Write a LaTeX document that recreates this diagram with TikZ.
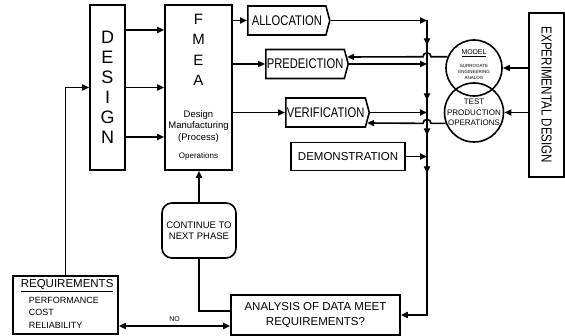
\documentclass[tikz,border=0pt]{standalone}
\usepackage{fontspec}
\setmainfont{Liberation Sans}
\newfontfamily\narrowfont[FakeStretch=0.8]{Liberation Sans}
\usetikzlibrary{positioning,calc,arrows.meta,shapes.symbols,decorations.markings}
\newcommand{\fsz}[2]{\fontsize{#1}{#2}\selectfont}

\begin{document}
\begin{tikzpicture}
[x=1pt, y=-1pt, line width=1.6pt, >={Triangle[length=7pt,width=6pt]},
box/.style={draw, inner sep=0pt},
tag/.style={draw, signal, signal to=east, signal pointer angle=150, anchor=west,
  minimum height=29pt, inner sep=1pt, font=\narrowfont\fsz{14}{16}},
ball/.style={draw, circle, inner sep=0pt},
txt/.style={inner sep=0pt},
bus/.style={postaction={decorate, decoration={markings,
  mark=at position 25pt with {\arrow{>}},
  mark=at position 80pt with {\arrow{>}},
  mark=at position 115pt with {\arrow{>}},
  mark=at position 153pt with {\arrow{>}}}}}]
\useasboundingbox (0,0) rectangle (565,336);

\node[box, minimum width=35pt, minimum height=165pt, align=center, font=\fsz{18}{20}] (design) at (107.5,87.5) {D\\E\\S\\I\\G\\N};
\node[box, minimum width=67pt, minimum height=165pt] (fmea) at (198.5,87.5) {};
\node[txt, align=center, font=\fsz{15}{20.5}] (fmeat) at (198.5,50) {F\\M\\E\\A};
\node[txt, align=center, font=\fsz{9.5}{11.5}] (dmp) at (198.5,126.5) {Design\\Manufacturing\\(Process)};
\node[txt, font=\fsz{8}{10}] (ops) at (198.5,156) {Operations};

\node[tag, minimum width=82pt] (alloc) at (247,20.5) {ALLOCATION};
\node[tag, minimum width=82pt] (pred) at (265,64) {PREDEICTION};
\node[tag, minimum width=80pt] (verif) at (285,112.5) {VERIFICATION};
\node[box, minimum width=114pt, minimum height=28pt, font=\fsz{11.5}{13}] (demo) at (348,156.5) {DEMONSTRATION};

\coordinate (top) at (427,20.5);

\node[ball, minimum size=56pt] (model) at (474,68) {};
\node[txt, font=\fsz{7}{8}] (modelt) at (474,53) {\underline{MODEL}};
\node[txt, align=center, font=\fsz{4.5}{6}] (sea) at (474,72) {SURROGATE\\ENGINEERING\\ANALOG};
\node[ball, minimum size=59pt] (test) at (474,112.5) {};
\node[txt, align=center, font=\fsz{8}{10.5}] (testt) at (474,112.5) {TEST\\PRODUCTION\\OPERATIONS};

\node[box, minimum width=35pt, minimum height=164pt] (exp) at (546.5,95) {};
\node[txt, rotate=-90, font=\narrowfont\fsz{14.5}{16}] (expt) at (exp) {EXPERIMENTAL DESIGN};

\node[box, rounded corners=10pt, minimum width=74pt, minimum height=55pt, align=center, font=\fsz{9.5}{11}] (cont) at (199,230.5) {CONTINUE TO\\NEXT PHASE};
\node[box, minimum width=169pt, minimum height=40pt, align=center, font=\fsz{11.5}{15}] (ana) at (315.5,315) {ANALYSIS OF DATA MEET\\REQUIREMENTS?};
\node[box, minimum width=105pt, minimum height=58pt] (req) at (65.5,305) {};
\node[txt, anchor=west, font=\fsz{11.5}{13}] (reqt) at (20,286) {\underline{REQUIREMENTS}};
\node[txt, anchor=west, align=left, font=\fsz{9}{12.5}] (reqi) at (28,312.5) {PERFORMANCE\\COST\\RELIABILITY};

% design to fmea
\draw[->] ([yshift=57.5pt]design.east) -- ([yshift=57.5pt]fmea.west);
\draw[->] (design) -- (fmea);
\draw[->] ([yshift=-49.5pt]design.east) -- ([yshift=-49.5pt]fmea.west);

\draw[->] (fmea.east |- alloc.west) -- (alloc.west);
\draw[->] (fmea.east |- pred.west) -- (pred.west);
\draw[->] (fmea.east |- verif.west) -- (verif.west);

% collecting line
\draw[->] (alloc.east) -- (top);
\draw[->] (pred.east) -- (pred.east -| top);
\draw[->] (verif.east) -- (verif.east -| top);
\draw[->] (demo.east) -- (demo.east -| top);
\draw[bus, ->] (top) |- (ana.east);

% models and tests, hopping the line
\draw[->] (model.157) -- ($(top |- model.157)+(4pt,0)$) arc[start angle=0, end angle=180, radius=4pt] -- ([shift={(-2pt,7pt)}]pred.east);
\draw[->] (test.201) -- ($(top |- test.201)+(4pt,0)$) arc[start angle=0, end angle=180, radius=4pt] -- ([shift={(-3pt,-10.5pt)}]verif.east);
\draw[->] (exp.west |- model.east) -- (model.east);
\draw[->] (exp.west |- test.east) -- (test.east);

% loop back
\draw[->] (cont.north) -- (cont.north |- fmea.south);
\draw (cont.south) |- ([yshift=4pt]ana.west);
\draw[->] (req.north) |- (design.west);
\draw[<->] ([yshift=-21pt]req.east) -- node[above, font=\fsz{7}{8}] (no) {NO} ([yshift=-11pt]ana.west);
\end{tikzpicture}
\end{document}
